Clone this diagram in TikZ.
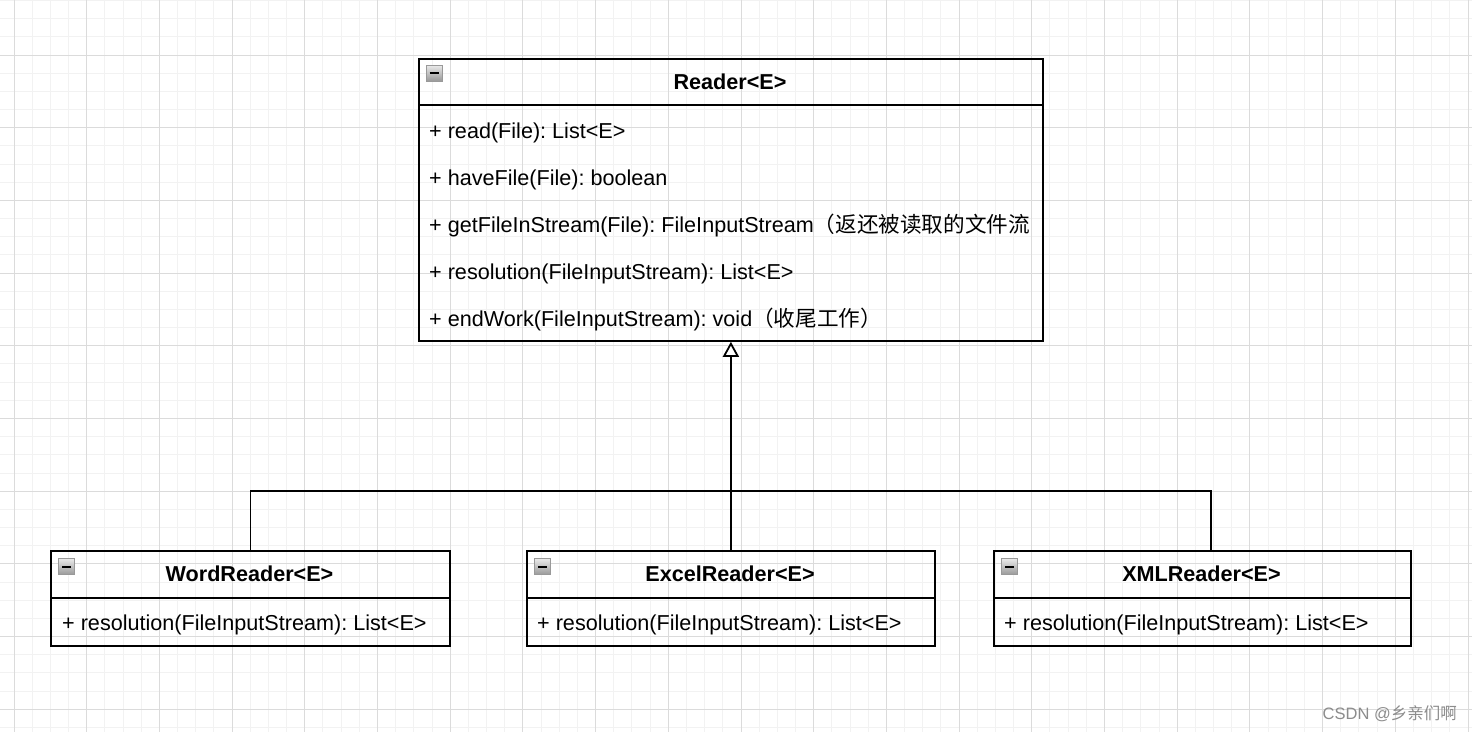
\documentclass[tikz,border=0pt]{standalone}
\usepackage{fontspec}
\setmainfont{Liberation Sans}
\newfontfamily\cjk{Noto Sans CJK SC}
\usetikzlibrary{arrows.meta,calc}
\frenchspacing
\begin{document}
\begin{tikzpicture}[x=1pt,y=-1pt,
  minorgrid/.style={draw=black!5,line width=1pt},
  majorgrid/.style={draw=black!14,line width=1pt},
  umlbox/.style={draw=black,line width=1.8pt,rectangle,inner sep=0pt,anchor=north west},
  divider/.style={draw=black,line width=1.8pt},
  umltitle/.style={font=\fontsize{21.6}{24}\selectfont\bfseries,anchor=base,inner sep=0pt},
  member/.style={font=\fontsize{21.6}{24}\selectfont,anchor=base west,inner sep=0pt},
  connector/.style={draw=black,line width=1.8pt},
  inherit/.style={connector,-{Triangle[open,length=15pt,width=16pt,line width=1.8pt]}},
  icon/.style={rectangle,minimum size=16pt,inner sep=0pt,draw=black!40,line width=0.8pt,
    top color=black!8,bottom color=black!40,
    path picture={\draw[line width=2pt,black] ([xshift=3.5pt]path picture bounding box.west) -- ([xshift=-3.5pt]path picture bounding box.east);}},
  watermark/.style={font=\fontsize{16.5}{19}\selectfont,text=black!45,anchor=base east,inner sep=0pt}
]
\useasboundingbox (0,0) rectangle (1472,732);
\clip (0,0) rectangle (1472,732);
\fill[white] (0,0) rectangle (1472,732);
% grid
\foreach \i in {0,...,80}{\draw[minorgrid] ({14+\i*18.175},0) -- ({14+\i*18.175},732);}
\foreach \i in {-3,...,37}{\draw[minorgrid] (0,{55+\i*18.175}) -- (1472,{55+\i*18.175});}
\foreach \i in {0,...,20}{\draw[majorgrid] ({14+\i*72.7},0) -- ({14+\i*72.7},732);}
\foreach \i in {-1,...,9}{\draw[majorgrid] (0,{55+\i*72.7}) -- (1472,{55+\i*72.7});}

% Reader
\node[umlbox,minimum width=624pt,minimum height=282pt] (reader) at (418,58) {};
\draw[divider] ([yshift=-47pt]reader.north west) -- ([yshift=-47pt]reader.north east);
\node[icon] (readericon) at (434,73) {};
\node[umltitle] (readertitle) at (730,89) {Reader<E>};
\node[member] (r1) at (429,138) {+ read(File): List<E>};
\node[member] (r2) at (429,185) {+ haveFile(File): boolean};
\node[member] (r3) at (429,232) {+ getFileInStream(File): FileInputStream{\cjk （返还被读取的文件流}};
\node[member] (r4) at (429,279) {+ resolution(FileInputStream): List<E>};
\node[member] (r5) at (429,326) {+ endWork(FileInputStream): void{\cjk （收尾工作）}};

% WordReader
\node[umlbox,minimum width=399pt,minimum height=95pt] (word) at (50,550) {};
\draw[divider] ([yshift=-48pt]word.north west) -- ([yshift=-48pt]word.north east);
\node[icon] (wordicon) at (66.5,566.5) {};
\node[umltitle] (wordtitle) at (249.5,581) {WordReader<E>};
\node[member] (w1) at (62,630) {+ resolution(FileInputStream): List<E>};

% ExcelReader
\node[umlbox,minimum width=408pt,minimum height=95pt] (excel) at (526,550) {};
\draw[divider] ([yshift=-48pt]excel.north west) -- ([yshift=-48pt]excel.north east);
\node[icon] (excelicon) at (542.5,566.5) {};
\node[umltitle] (exceltitle) at (730,581) {ExcelReader<E>};
\node[member] (e1) at (537,630) {+ resolution(FileInputStream): List<E>};

% XMLReader
\node[umlbox,minimum width=417pt,minimum height=95pt] (xml) at (993,550) {};
\draw[divider] ([yshift=-48pt]xml.north west) -- ([yshift=-48pt]xml.north east);
\node[icon] (xmlicon) at (1009.5,566.5) {};
\node[umltitle] (xmltitle) at (1201.5,581) {XMLReader<E>};
\node[member] (x1) at (1004,630) {+ resolution(FileInputStream): List<E>};

% connectors
\coordinate (junction) at (730,491);
\draw[inherit] (excel.north) -- (reader.south);
\draw[connector] (word.north) |- (junction) -| ([xshift=8.5pt]xml.north);

% watermark
\node[watermark] (wm) at (1457,719) {CSDN @{\cjk 乡亲们啊}};
\end{tikzpicture}
\end{document}
